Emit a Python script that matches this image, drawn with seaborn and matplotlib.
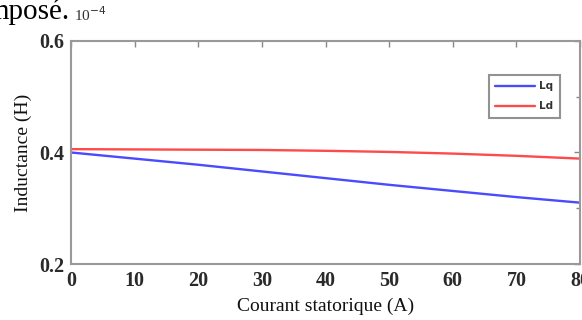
import matplotlib
matplotlib.use("Agg")
import matplotlib.pyplot as plt
import seaborn as sns
import pandas as pd
from matplotlib.ticker import FixedLocator

# Data (values in units of 1e-4 H)
courant = [0, 10, 20, 30, 40, 50, 60, 70, 80]
lq = [0.400, 0.389, 0.378, 0.366, 0.354, 0.342, 0.331, 0.320, 0.310]
ld = [0.406, 0.4055, 0.405, 0.4045, 0.403, 0.401, 0.398, 0.394, 0.389]
series_names = ["Lq", "Ld"]
x_ticks = [0, 10, 20, 30, 40, 50, 60, 70, 80]
y_ticks = [0.2, 0.4, 0.6]
y_tick_labels = ["0.2", "0.4", "0.6"]

df = pd.DataFrame({
    "Courant": courant * 2,
    "L": lq + ld,
    "Serie": [series_names[0]] * len(courant) + [series_names[1]] * len(courant),
})

sns.set_theme(style="white")
plt.rcParams["font.family"] = ["Liberation Serif", "DejaVu Serif"]

fig = plt.figure(figsize=(5.82, 3.2), dpi=100)
ax = fig.add_axes([0.122, 0.175, 0.8746, 0.697])

sns.lineplot(data=df, x="Courant", y="L", hue="Serie",
             palette={"Lq": "#4a4aff", "Ld": "#ff4a4a"},
             linewidth=1.7, ax=ax, legend=True)

ax.set_xlim(0, 80)
ax.set_ylim(0.2, 0.6)
ax.set_xticks(x_ticks)
ax.set_yticks(y_ticks)
ax.set_yticklabels(y_tick_labels)
ax.yaxis.set_minor_locator(FixedLocator([0.3, 0.5]))
ax.tick_params(axis="both", which="both", direction="in", top=True, right=True,
               color="#888888", width=1.0)
ax.tick_params(axis="both", which="major", length=4, labelsize=14.5,
               labelcolor="#2a2a2a", pad=5)
ax.tick_params(axis="both", which="minor", length=3)
for lab in ax.get_xticklabels() + ax.get_yticklabels():
    lab.set_fontweight("semibold")
for s in ax.spines.values():
    s.set_color("#999999")
    s.set_linewidth(1.5)

ax.set_xlabel("Courant statorique (A)", fontsize=14, color="#111111", labelpad=5)
ax.set_ylabel("Inductance (H)", fontsize=14, color="#111111", labelpad=5)

leg = ax.legend(loc="upper right", bbox_to_anchor=(0.97, 0.87), frameon=True,
                handlelength=3.8, handletextpad=0.4,
                borderpad=0.6, labelspacing=0.95, fancybox=False,
                prop={"family": "DejaVu Sans", "weight": "bold", "size": 7.5})
leg.get_frame().set_edgecolor("#777777")
leg.get_frame().set_linewidth(1.5)
for t in leg.get_texts():
    t.set_color("#333333")

fig.text(0.128, 0.925, "10$^{-4}$", fontsize=11, color="#333333",
         ha="left", va="bottom")
fig.text(-0.024, 1.005, "mposé.", fontsize=21, color="black", ha="left", va="top")

fig.savefig("out.png", dpi=100)
